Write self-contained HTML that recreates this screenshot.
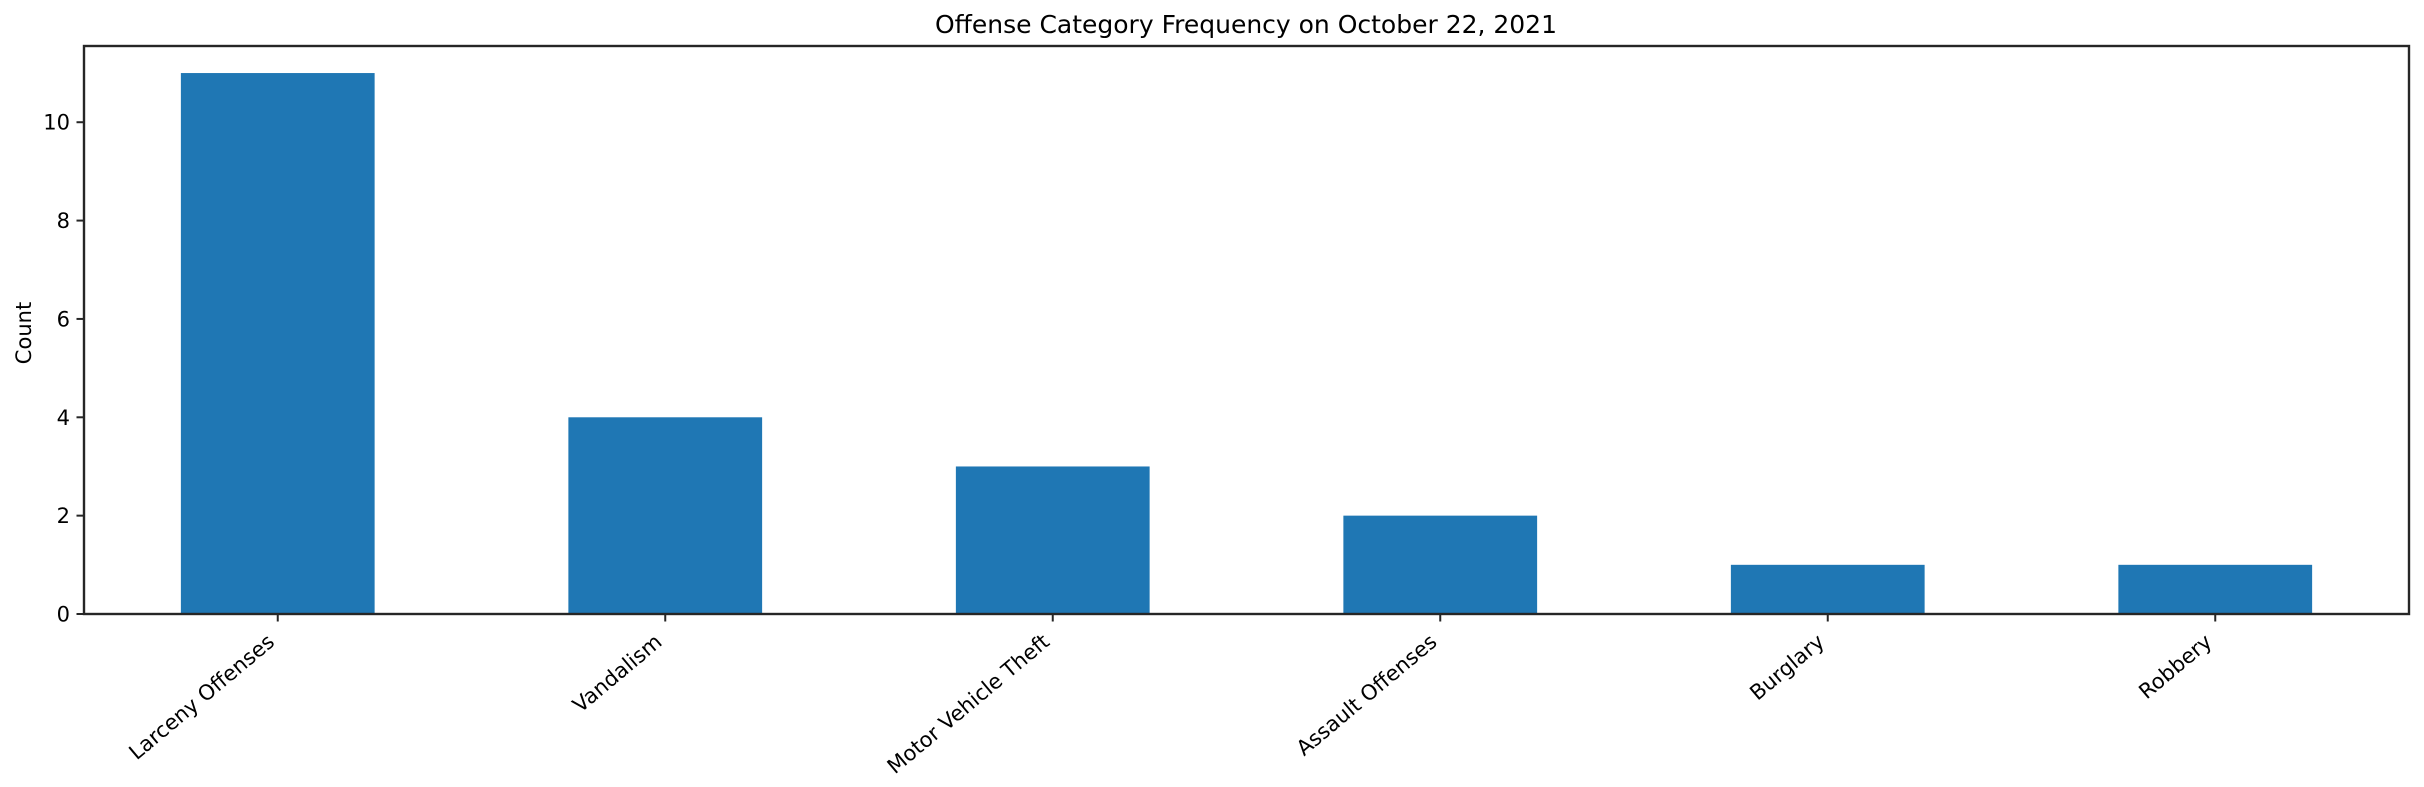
<!DOCTYPE html>
<html><head><meta charset="utf-8"><style>
html,body{margin:0;padding:0;background:#fff;}
svg{display:block;font-family:"DejaVu Sans","Liberation Sans",sans-serif;}
</style></head><body>
<svg id="chart" width="2424" height="787" viewBox="0 0 2424 787" xmlns="http://www.w3.org/2000/svg">
<rect width="2424" height="787" fill="#fff"/>
<text x="1246" y="33" text-anchor="middle" font-size="25" textLength="622" lengthAdjust="spacingAndGlyphs">Offense Category Frequency on October 22, 2021</text>
<text transform="translate(31,333) rotate(-90)" text-anchor="middle" font-size="21">Count</text>
<g id="bars"></g>
<g id="yticks"></g>
<g id="xticks"></g>
<rect x="84" y="46" width="2325" height="568" fill="none" stroke="#262626" stroke-width="2.4"/>
</svg>
<script>
const categories = ["Larceny Offenses","Vandalism","Motor Vehicle Theft","Assault Offenses","Burglary","Robbery"];
const counts = [11,4,3,2,1,1];
const yTickValues = [0,2,4,6,8,10];
const yTickLabels = ["0","2","4","6","8","10"];

const NS = "http://www.w3.org/2000/svg";
const L = 84, R = 2409, T = 46, B = 614;
const yMax = Math.max(...counts) * 1.05;
function yScale(v){ return B - (v / yMax) * (B - T); }
function xScale(i){ return L + (i + 0.5) * (R - L) / categories.length; }
const bandW = (R - L) / categories.length * 0.5;
function mk(tag, attrs){ const e = document.createElementNS(NS, tag); for (const k in attrs) e.setAttribute(k, attrs[k]); return e; }

const gb = document.getElementById("bars");
counts.forEach((v, i) => {
  const r = mk("rect", {x: xScale(i) - bandW/2, y: yScale(v), width: bandW, height: B - yScale(v), fill: "#1f77b4"});
  
  
  gb.appendChild(r);
});

const gy = document.getElementById("yticks");
yTickValues.forEach((v, i) => {
  const y = yScale(v);
  const ln = mk("line", {x1: L - 7.5, x2: L, y1: y, y2: y, stroke: "#262626", "stroke-width": 2});
  
  
  gy.appendChild(ln);
  const t = mk("text", {x: L - 14, y: y + 7.5, "text-anchor": "end", "font-size": 21});
  
  
  t.textContent = yTickLabels[i];
  gy.appendChild(t);
});

const gx = document.getElementById("xticks");
categories.forEach((c, i) => {
  const x = xScale(i);
  const ln = mk("line", {x1: x, x2: x, y1: B, y2: B + 7.5, stroke: "#262626", "stroke-width": 2});
  
  
  gx.appendChild(ln);
  const t = mk("text", {transform: "translate(" + (x - 2) + "," + (B + 30) + ") rotate(-40)", "text-anchor": "end", "font-size": 21});
  
  
  t.textContent = c;
  gx.appendChild(t);
});
</script>
</body></html>
